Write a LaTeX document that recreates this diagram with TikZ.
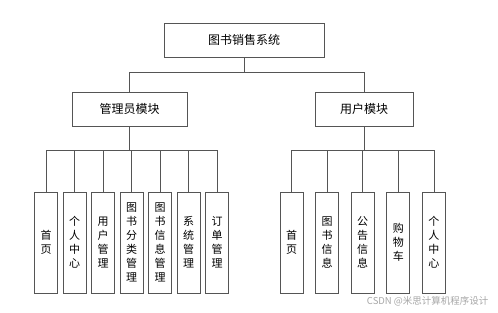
\documentclass[tikz,border=0pt]{standalone}
\usepackage{fontspec}
\newfontfamily\cjk{Noto Sans CJK SC}
\usetikzlibrary{positioning}
\definecolor{boxGray}{RGB}{85, 85, 85}

\begin{document}
\begin{tikzpicture}[x=1pt, y=-1pt,
  top/.style={rectangle, draw=boxGray, fill=white, line width=0.8pt,
              minimum width=160pt, minimum height=34pt,
              font=\cjk\fontsize{12}{14}\selectfont},
  mod/.style={rectangle, draw=boxGray, fill=white, line width=0.8pt,
              minimum height=34pt,
              font=\cjk\fontsize{12}{14}\selectfont},
  leaf/.style={rectangle, draw=boxGray, fill=white, line width=0.8pt,
               minimum width=23pt, minimum height=101pt, inner sep=1pt,
               align=center, font=\cjk\fontsize{11}{14}\selectfont},
  wire/.style={draw=boxGray, line width=0.8pt}
]
  \useasboundingbox (0,0) rectangle (498,313);

  %% System
  \node[top] (sys) at (244,40) {图书销售系统};

  %% Modules
  \node[mod, minimum width=115pt] (adm) at (129.5,109) {管理员模块};
  \node[mod, minimum width=98pt]  (usr) at (364,109)   {用户模块};

  %% Admin functions
  \foreach \t [count=\i] in {{首\\页}, {个\\人\\中\\心}, {用\\户\\管\\理},
      {图\\书\\分\\类\\管\\理}, {图\\书\\信\\息\\管\\理},
      {系\\统\\管\\理}, {订\\单\\管\\理}}
    \node[leaf] (a\i) at ({46+(\i-1)*28.5},242.5) {\t};

  %% User functions
  \foreach \t [count=\i] in {{首\\页}, {图\\书\\信\\息}, {公\\告\\信\\息},
      {购\\物\\车}, {个\\人\\中\\心}}
    \node[leaf] (u\i) at ({291.5+(\i-1)*35.6},242.5) {\t};

  %% System -> modules
  \draw[wire] (sys.south) -- ++(0,15) -| (adm.north);
  \draw[wire] (sys.south) -- ++(0,15) -| (usr.north);

  %% Modules -> functions
  \foreach \i in {1,...,7}
    \draw[wire] (adm.south) -- ++(0,24) -| (a\i.north);
  \foreach \i in {1,...,5}
    \draw[wire] (usr.south) -- ++(0,24) -| (u\i.north);

  %% Watermark
  \node[font=\cjk\fontsize{9.5}{11}\selectfont, text=gray!70, anchor=east]
    (wm) at (492,301) {CSDN @米思计算机程序设计};
\end{tikzpicture}
\end{document}
